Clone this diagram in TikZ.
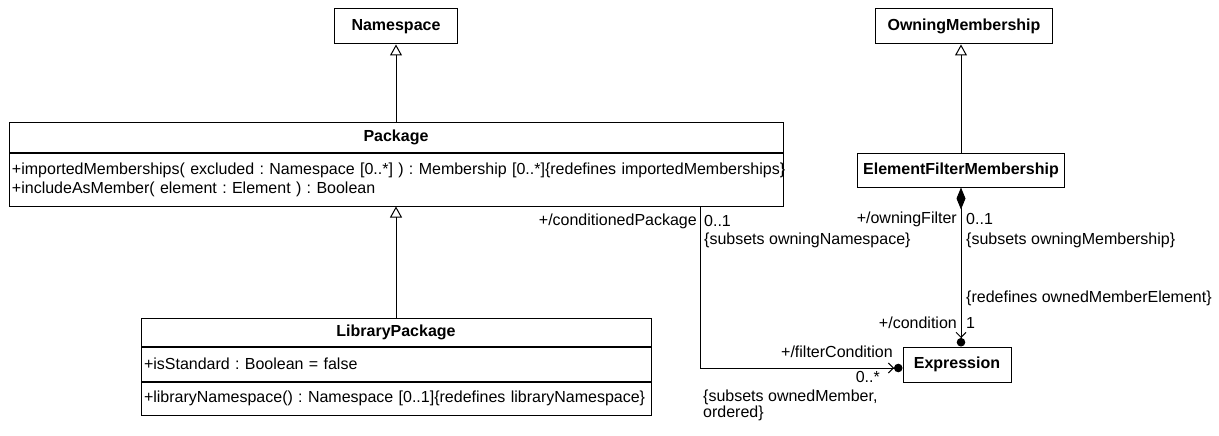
\documentclass[tikz,border=0pt]{standalone}
\usepackage{fontspec}
\setmainfont{Liberation Sans}
\usetikzlibrary{arrows.meta, positioning}

\newcommand{\umlfont}{\fontsize{16}{19}\selectfont\frenchspacing}
\newcommand{\compfont}{\umlfont\spaceskip=0.18em\relax}
\tikzset{
  cls/.style={draw, line width=1pt, inner sep=0pt, font=\umlfont\bfseries},
  comp/.style={draw, line width=1pt, inner xsep=3pt, inner ysep=0pt, align=left, anchor=north, font=\compfont},
  role/.style={inner sep=0pt, font=\umlfont},
  gen/.style={-{Triangle[open, length=11pt, width=12pt]}, line width=1pt},
  assoc/.style={line width=1pt},
  navend/.style={-{Straight Barb[length=5pt, width=10pt] Circle[length=8.5pt]}},
  compos/.style={{Diamond[length=22pt, width=9pt]}-{Straight Barb[length=5pt, width=10pt] Circle[length=8.5pt]}},
}

\begin{document}
\begin{tikzpicture}[x=1pt, y=-1pt]
  \useasboundingbox (0,0) rectangle (1219,436);
  % classes
  \node[cls, minimum width=123pt, minimum height=35pt] (ns) at (396, 26.5) {Namespace};
  \node[cls, minimum width=774pt, minimum height=30pt] (pkg) at (396, 137) {Package};
  \node[comp, text width=768pt, minimum height=53pt] (pkgOps) at (pkg.south) {\mbox{+importedMemberships( excluded : Namespace [0..*] ) : Membership [0..*]\{redefines importedMemberships\}}\\+includeAsMember( element : Element ) : Boolean};
  \node[cls, minimum width=510pt, minimum height=28pt] (lib) at (396, 332) {LibraryPackage};
  \node[comp, text width=504pt, minimum height=34pt] (libAttr) at (lib.south) {+isStandard : Boolean = false};
  \node[comp, text width=504pt, minimum height=33pt] (libOps) at (libAttr.south) {+libraryNamespace() : Namespace [0..1]\{redefines libraryNamespace\}};
  \node[cls, minimum width=177pt, minimum height=35pt] (om) at (964, 26.5) {OwningMembership};
  \node[cls, minimum width=207pt, minimum height=34pt] (efm) at (961, 170) {ElementFilterMembership};
  \node[cls, minimum width=108pt, minimum height=35pt] (expr) at (957, 364.5) {Expression};
  % generalizations
  \draw[gen] (pkg) -- (ns);
  \draw[gen] (lib) -- (pkgOps);
  \draw[gen] (efm) -- (efm.north |- om.south);
  % owningFilter / condition
  \draw[assoc, compos] (efm.south) -- (efm.south |- expr.north);
  \node[role, anchor=east] (ofName) at (957, 219) {+/owningFilter};
  \node[role, anchor=west] (ofMult) at (966, 219) {0..1};
  \node[role, anchor=west] (ofCons) at (966, 240) {\{subsets owningMembership\}};
  \node[role, anchor=west] (cdCons) at (966, 298) {\{redefines ownedMemberElement\}};
  \node[role, anchor=east] (cdName) at (957, 323) {+/condition};
  \node[role, anchor=west] (cdMult) at (966, 323) {1};
  % conditionedPackage / filterCondition
  \draw[assoc, navend] ([xshift=304pt]pkgOps.south) |- ([yshift=-3.5pt]expr.west);
  \node[role, anchor=east] (cpName) at (697, 221) {+/conditionedPackage};
  \node[role, anchor=west] (cpMult) at (704, 221) {0..1};
  \node[role, anchor=west] (cpCons) at (704, 240) {\{subsets owningNamespace\}};
  \node[role, anchor=east] (fcName) at (893, 352) {+/filterCondition};
  \node[role, anchor=east] (fcMult) at (880, 377) {0..*};
  \node[role, anchor=west, align=left] (fcCons) at (703, 405) {\{subsets ownedMember,\\[-3pt]ordered\}};
\end{tikzpicture}
\end{document}
